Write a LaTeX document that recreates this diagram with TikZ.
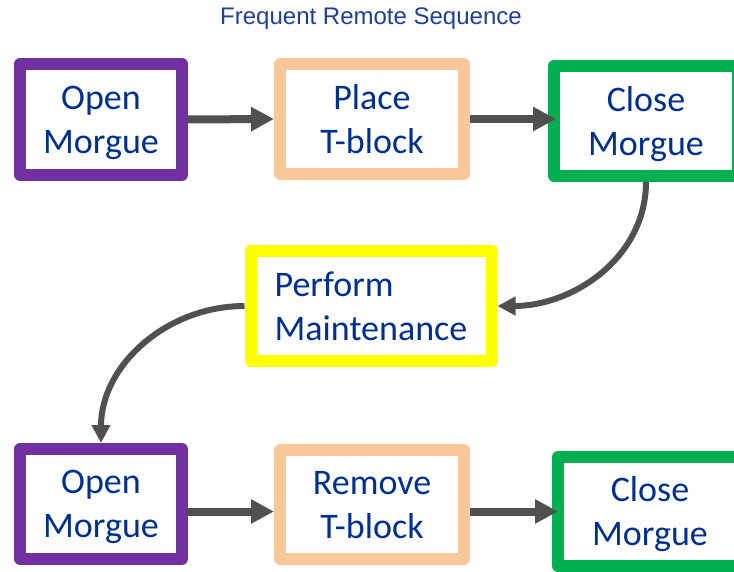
\documentclass[tikz,border=0pt]{standalone}
\usepackage{fontspec}
\setmainfont{Carlito}
\newfontfamily\titlefont{Liberation Sans}
\usetikzlibrary{arrows.meta}
\definecolor{txt}{HTML}{00308F}
\definecolor{ttl}{HTML}{1F3F96}
\definecolor{pur}{HTML}{7030A0}
\definecolor{pch}{HTML}{F8C89A}
\definecolor{grn}{HTML}{00B050}
\definecolor{ylw}{HTML}{FFFF00}
\definecolor{arr}{HTML}{505050}
\tikzset{
	stepbox/.style={draw=#1, line width=12pt, line join=round, fill=white, text=txt, align=center, inner sep=0pt, text depth=0pt, font=\fontsize{36}{44}\selectfont},
	flow/.style={-{Triangle[length=23pt,width=23pt]}, line width=8pt, arr},
	curveflow/.style={-{Triangle[length=18pt,width=18pt]}, line width=6pt, arr},
}

\begin{document}
\begin{tikzpicture}[x=1pt,y=1pt]
	\useasboundingbox (0,0) rectangle (734,571);
	\clip (0,0) rectangle (734,571);
	\node [font=\titlefont\fontsize{24}{28}\selectfont, text=ttl, anchor=base] (title) at (371,546) {Frequent Remote Sequence};
	% first row
	\node [stepbox=pur, minimum width=162pt, minimum height=111pt] (open1) at (101,451.5) {Open\\Morgue};
	\node [stepbox=pch, minimum width=184pt, minimum height=110pt] (place) at (372,452) {Place\\T-block};
	\node [stepbox=grn, minimum width=184pt, minimum height=110pt] (close1) at (646,450) {Close\\Morgue};
	% middle
	\node [stepbox=ylw, align=left, minimum width=241pt, minimum height=110pt] (perform) at (371,265) {Perform\\Maintenance};
	% second row
	\node [stepbox=pur, minimum width=162pt, minimum height=110pt] (open2) at (101,67) {Open\\Morgue};
	\node [stepbox=pch, minimum width=184pt, minimum height=109pt] (remove) at (372,66.5) {Remove\\T-block};
	\node [stepbox=grn, minimum width=184pt, minimum height=109pt] (close2) at (650,59.5) {Close\\Morgue};
	% arrows
	\draw [flow] (open1.east) -- (place.west);
	\draw [flow] (place.east) -- ([xshift=8pt]close1.west |- place.east);
	\draw [curveflow] (close1.south) to[out=-90,in=0] (perform.east);
	\draw [curveflow] (perform.west) to[out=180,in=90] (open2.north);
	\draw [flow] (open2.east |- close2.west) -- (remove.west |- close2.west);
	\draw [flow] (remove.east |- close2.west) -- ([xshift=6pt]close2.west);
\end{tikzpicture}
\end{document}
